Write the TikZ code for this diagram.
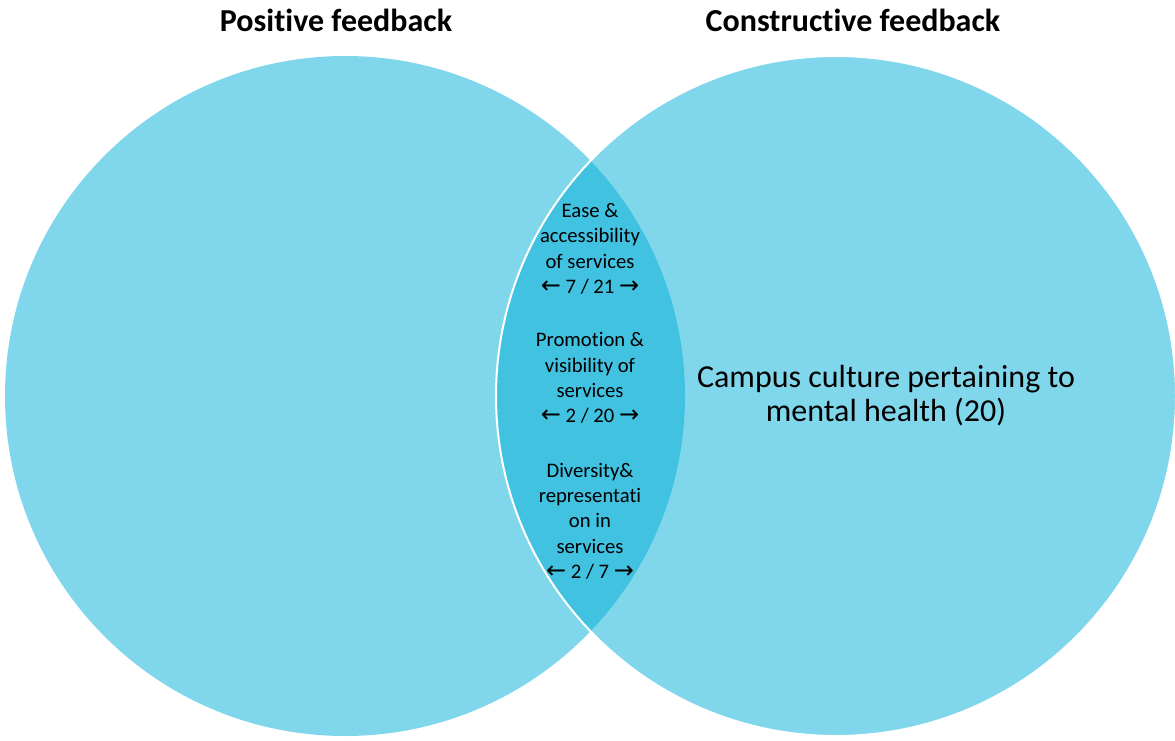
\documentclass[tikz,border=0pt]{standalone}
\usepackage{fontspec}
\setmainfont{Carlito}[RawFeature={-liga;-clig;-calt;-dlig}]
\newfontfamily\arrowfont{DejaVu Sans}
\definecolor{vennlight}{RGB}{128,215,235}
\definecolor{venndark}{RGB}{65,194,225}
\newcommand{\la}{{\arrowfont\fontsize{18}{18}\selectfont\char"2190}}
\newcommand{\ra}{{\arrowfont\fontsize{18}{18}\selectfont\char"2192}}

\tikzset{every picture/.style={line width=0.75pt}}
\tikzset{
  lenstext/.style={align=center, inner sep=0.75pt, font=\fontsize{15.5}{19}\selectfont},
  titletext/.style={inner sep=0.75pt, font=\fontsize{24}{28}\selectfont\bfseries},
}

\begin{document}
\begin{tikzpicture}[x=0.75pt,y=0.75pt,yscale=-1,xscale=1]
\useasboundingbox (0,0) rectangle (1175,740);

%Shape: Circle [left]
\fill [vennlight] (345,396) circle (340);
%Shape: Circle [right]
\fill [vennlight] (836,396) circle (340);
%Shape: Lens
\begin{scope}
\clip (345,396) circle (340);
\fill [venndark] (836,396) circle (340);
\end{scope}
%Curve Lines [white edge of right circle]
\draw [white, line width=1.5] (836,396) circle (340);

% Text Node
\node [titletext] (tpos) at (336,20) {Positive feedback};
% Text Node
\node [titletext] (tcon) at (853,20) {Constructive feedback};

% Text Node
\node [lenstext] (ease) at (590,249) {Ease \&\\accessibility\\of services\\\la{} 7 / 21 \ra};
% Text Node
\node [lenstext] (promo) at (590,378) {Promotion \&\\visibility of\\services\\\la{} 2 / 20 \ra};
% Text Node
\node [lenstext] (divers) at (590,521) {Diversity\&\\representati\\on in\\services\\\la{} 2 / 7 \ra};

% Text Node
\node [align=center, inner sep=0.75pt, font=\fontsize{24}{25.5}\selectfont] (campus) at (886,396) {Campus culture pertaining to\\mental health (20)};

\end{tikzpicture}
\end{document}
